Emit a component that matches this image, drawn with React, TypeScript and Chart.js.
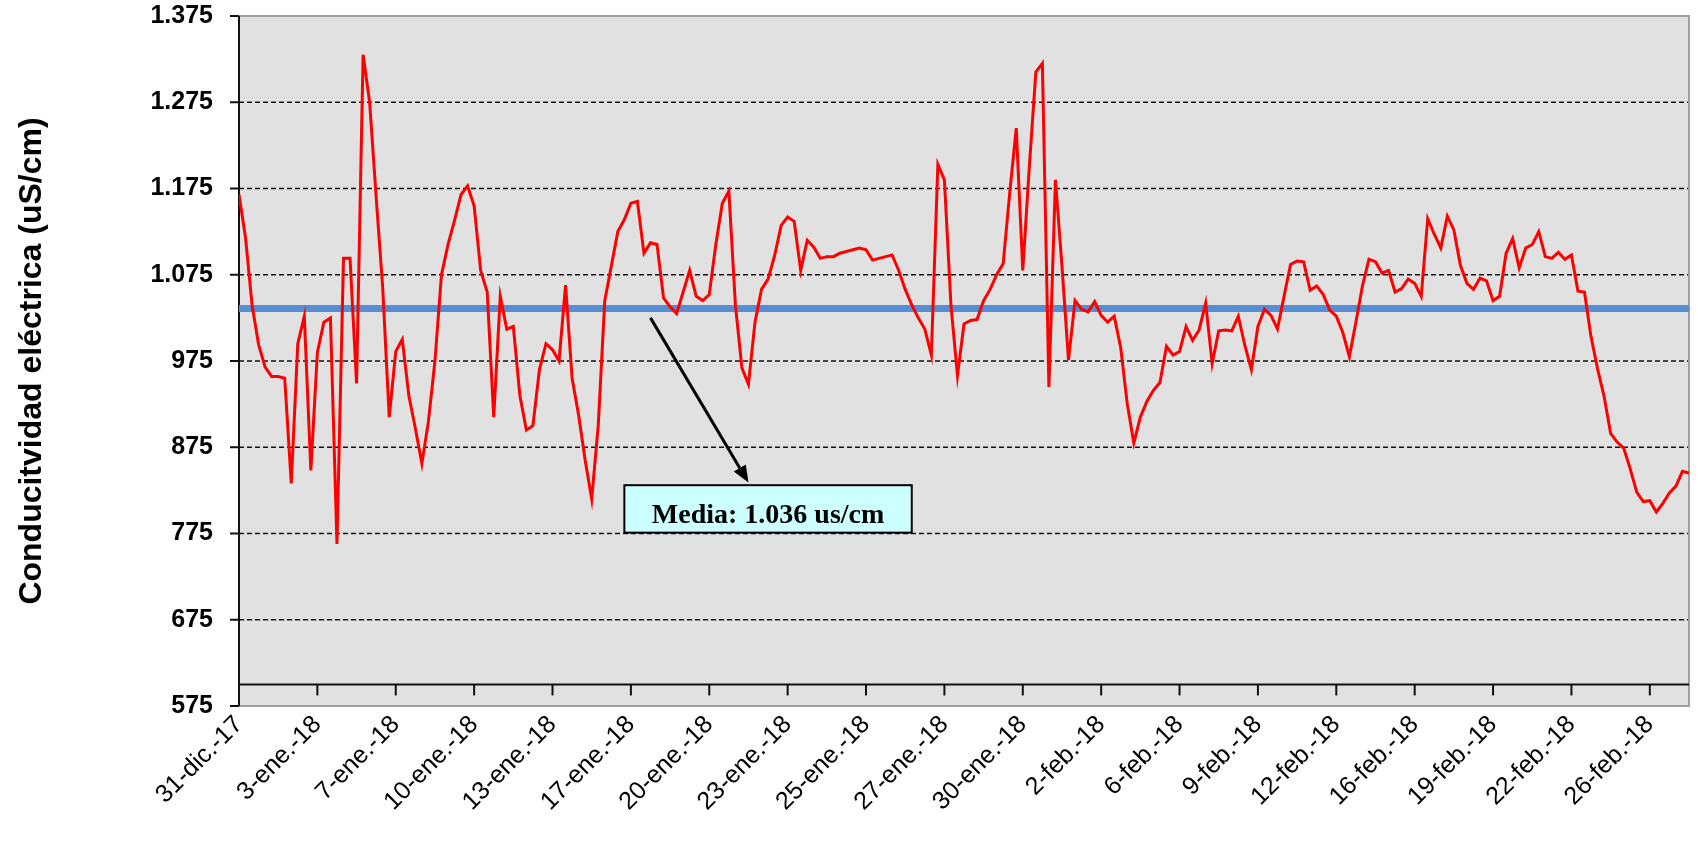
import React, { useEffect, useRef } from "react";
import { Chart, registerables } from "chart.js";

Chart.register(...registerables);

// ---- data ----
const TICK_LABELS = [
  "31-dic.-17", "3-ene.-18", "7-ene.-18", "10-ene.-18", "13-ene.-18", "17-ene.-18",
  "20-ene.-18", "23-ene.-18", "25-ene.-18", "27-ene.-18", "30-ene.-18", "2-feb.-18",
  "6-feb.-18", "9-feb.-18", "12-feb.-18", "16-feb.-18", "19-feb.-18", "22-feb.-18", "26-feb.-18",
];
const POINTS_PER_LABEL = 12;

const CONDUCTIVITY = [
  // 31-dic -> 7-ene
  1168, 1118, 1040, 994, 968, 957, 957, 955, 833, 995, 1027, 848,
  985, 1020, 1025, 763, 1094, 1094, 949, 1330, 1275, 1165, 1060, 910,
  986, 1000, 935, 897, 856, 905, 975, 1075, 1110, 1138, 1168, 1178,
  // 10-ene -> 20-ene
  1155, 1080, 1055, 910, 1050, 1012, 1015, 935, 895, 900, 965, 995,
  988, 975, 1063, 955, 912, 860, 815, 900, 1045, 1085, 1125, 1139,
  1158, 1160, 1100, 1112, 1110, 1048, 1038, 1030, 1055, 1080, 1050, 1045,
  // 20-ene -> 27-ene
  1052, 1110, 1158, 1172, 1040, 967, 948, 1020, 1058, 1070, 1097, 1132,
  1142, 1137, 1080, 1115, 1107, 1094, 1096, 1096, 1100, 1102, 1104, 1106,
  1104, 1092, 1094, 1096, 1098, 1080, 1058, 1040, 1025, 1012, 982, 1203,
  // 27-ene -> 6-feb
  1185, 1040, 958, 1018, 1022, 1023, 1045, 1058, 1075, 1088, 1170, 1245,
  1080, 1200, 1310, 1320, 945, 1185, 1085, 976, 1045, 1035, 1032, 1044,
  1028, 1020, 1027, 990, 925, 880, 910, 928, 941, 950, 992, 982,
  // 6-feb -> 16-feb
  986, 1015, 999, 1011, 1042, 972, 1010, 1011, 1010, 1027, 993, 965,
  1015, 1035, 1028, 1012, 1050, 1087, 1091, 1090, 1057, 1062, 1052, 1034,
  1027, 1008, 980, 1020, 1062, 1093, 1090, 1077, 1080, 1055, 1059, 1070,
  // 16-feb -> end
  1065, 1050, 1140, 1122, 1106, 1143, 1127, 1086, 1065, 1058, 1071, 1068,
  1045, 1050, 1100, 1117, 1083, 1106, 1110, 1125, 1096, 1094, 1101, 1093,
  1098, 1056, 1055, 1003, 966, 934, 891, 881, 874, 850, 823, 812,
  813, 800, 810, 822, 830, 847, 845,
];

const MEAN_VALUE = 1036;
const MEAN_LABEL = "Media: 1.036 us/cm";
const Y_TICKS = [575, 675, 775, 875, 975, 1075, 1175, 1275, 1375];
const X_AXIS_CROSSES_AT = 600;
const Y_TITLE = "Conducitvidad eléctrica (uS/cm)";

// annotation anchors in data units (x = sample index, y = value)
const NOTE_ARROW_FROM = { x: 63, y: 1025 };
const NOTE_ARROW_TO = { x: 78, y: 834 };
const NOTE_BOX = { x0: 59, x1: 103, yTop: 831, yBottom: 776 };

const LAST_INDEX = CONDUCTIVITY.length - 1;

const formatThousands = (v: number) => {
  const s = String(Math.round(v));
  return s.length > 3 ? s.slice(0, -3) + "." + s.slice(-3) : s;
};

const SANS = "'Liberation Sans', Arial, sans-serif";
const SERIF = "'Liberation Serif', 'Times New Roman', serif";

const excelFrame = {
  id: "excelFrame",
  beforeDraw(chart: any) {
    const { ctx, chartArea: a } = chart;
    ctx.save();
    ctx.fillStyle = "#ffffff";
    ctx.fillRect(0, 0, chart.width, chart.height);
    ctx.fillStyle = "#E1E1E1";
    ctx.fillRect(a.left, a.top, a.right - a.left, a.bottom - a.top);
    ctx.restore();
  },
  beforeDatasetsDraw(chart: any) {
    const { ctx, chartArea: a } = chart;
    const x = chart.scales.x;
    const y = chart.scales.y;
    ctx.save();
    // dashed gridlines
    ctx.strokeStyle = "#111";
    ctx.lineWidth = 1.5;
    ctx.setLineDash([5, 3]);
    Y_TICKS.forEach((v, k) => {
      if (k === 0 || k === Y_TICKS.length - 1) return;
      const py = y.getPixelForValue(v);
      ctx.beginPath();
      ctx.moveTo(a.left, py);
      ctx.lineTo(a.right, py);
      ctx.stroke();
    });
    ctx.setLineDash([]);
    // plot border
    ctx.strokeStyle = "#A0A0A0";
    ctx.lineWidth = 2;
    ctx.beginPath();
    ctx.moveTo(a.left, a.top);
    ctx.lineTo(a.right, a.top);
    ctx.lineTo(a.right, a.bottom);
    ctx.lineTo(a.left, a.bottom);
    ctx.stroke();
    // horizontal axis crossing at X_AXIS_CROSSES_AT
    const ay = y.getPixelForValue(X_AXIS_CROSSES_AT);
    ctx.strokeStyle = "#111";
    ctx.lineWidth = 2;
    ctx.beginPath();
    ctx.moveTo(a.left, ay);
    ctx.lineTo(a.right, ay);
    ctx.stroke();
    TICK_LABELS.forEach((_, k) => {
      const px = x.getPixelForValue(k * POINTS_PER_LABEL);
      ctx.beginPath();
      ctx.moveTo(px, ay);
      ctx.lineTo(px, ay + 11);
      ctx.stroke();
    });
    // vertical axis
    ctx.beginPath();
    ctx.moveTo(a.left, a.top);
    ctx.lineTo(a.left, a.bottom);
    ctx.stroke();
    Y_TICKS.forEach((v) => {
      const py = y.getPixelForValue(v);
      ctx.beginPath();
      ctx.moveTo(a.left - 9, py);
      ctx.lineTo(a.left, py);
      ctx.stroke();
    });
    ctx.restore();
  },
  afterDatasetsDraw(chart: any) {
    const { ctx } = chart;
    const x = chart.scales.x;
    const y = chart.scales.y;
    ctx.save();
    // arrow
    const x1 = x.getPixelForValue(NOTE_ARROW_FROM.x);
    const y1 = y.getPixelForValue(NOTE_ARROW_FROM.y);
    const x2 = x.getPixelForValue(NOTE_ARROW_TO.x);
    const y2 = y.getPixelForValue(NOTE_ARROW_TO.y);
    const ang = Math.atan2(y2 - y1, x2 - x1);
    const head = 17;
    const hw = 7;
    const bx = x2 - head * Math.cos(ang);
    const by = y2 - head * Math.sin(ang);
    ctx.strokeStyle = "#000";
    ctx.fillStyle = "#000";
    ctx.lineWidth = 3;
    ctx.beginPath();
    ctx.moveTo(x1, y1);
    ctx.lineTo(bx, by);
    ctx.stroke();
    ctx.beginPath();
    ctx.moveTo(x2, y2);
    ctx.lineTo(bx + hw * Math.sin(ang), by - hw * Math.cos(ang));
    ctx.lineTo(bx - hw * Math.sin(ang), by + hw * Math.cos(ang));
    ctx.closePath();
    ctx.fill();
    // box
    const bl = x.getPixelForValue(NOTE_BOX.x0);
    const br = x.getPixelForValue(NOTE_BOX.x1);
    const bt = y.getPixelForValue(NOTE_BOX.yTop);
    const bb = y.getPixelForValue(NOTE_BOX.yBottom);
    ctx.fillStyle = "#CCFFFF";
    ctx.fillRect(bl, bt, br - bl, bb - bt);
    ctx.strokeStyle = "#000";
    ctx.lineWidth = 2;
    ctx.strokeRect(bl, bt, br - bl, bb - bt);
    ctx.fillStyle = "#000";
    ctx.font = `bold 28px ${SERIF}`;
    ctx.textAlign = "center";
    ctx.textBaseline = "alphabetic";
    ctx.fillText(MEAN_LABEL, (bl + br) / 2, bb - 10);
    ctx.restore();
  },
};

export default function App() {
  const ref = useRef<HTMLCanvasElement>(null);

  useEffect(() => {
    if (!ref.current) return;
    const chart = new Chart(ref.current, {
      type: "line",
      data: {
        datasets: [
          {
            label: "Conductividad",
            data: CONDUCTIVITY.map((v, i) => ({ x: i, y: v })),
            borderColor: "#FF0000",
            borderWidth: 3,
            pointRadius: 0,
            tension: 0,
            fill: false,
            order: 0,
          },
          {
            label: "Media",
            data: [
              { x: 0, y: MEAN_VALUE },
              { x: LAST_INDEX, y: MEAN_VALUE },
            ],
            borderColor: "#558ED5",
            borderWidth: 7,
            pointRadius: 0,
            tension: 0,
            fill: false,
            order: 1,
          },
        ],
      },
      options: {
        responsive: false,
        animation: false,
        devicePixelRatio: 1,
        layout: { padding: { top: 16, right: 9, left: 0, bottom: 0 } },
        plugins: {
          legend: { display: false },
          tooltip: { enabled: false },
        },
        scales: {
          x: {
            type: "linear",
            min: 0,
            max: LAST_INDEX,
            grid: { display: false, drawTicks: false },
            border: { display: false },
            afterBuildTicks: (s: any) => {
              s.ticks = TICK_LABELS.map((_, k) => ({ value: k * POINTS_PER_LABEL }));
            },
            afterFit: (s: any) => {
              s.height = 135;
            },
            ticks: {
              autoSkip: false,
              minRotation: 45,
              maxRotation: 45,
              padding: 4,
              color: "#000",
              font: { family: SANS, size: 25 },
              callback: (v: any) => TICK_LABELS[Math.round(Number(v) / POINTS_PER_LABEL)] ?? "",
            },
          },
          y: {
            type: "linear",
            min: Y_TICKS[0],
            max: Y_TICKS[Y_TICKS.length - 1],
            grid: {
              display: true,
              drawOnChartArea: false,
              drawTicks: true,
              tickLength: 26,
              color: "rgba(0,0,0,0)",
              tickColor: "rgba(0,0,0,0)",
            },
            border: { display: false },
            afterBuildTicks: (s: any) => {
              s.ticks = Y_TICKS.map((v) => ({ value: v }));
            },
            afterFit: (s: any) => {
              s.width = 239;
            },
            ticks: {
              padding: 0,
              color: "#000",
              font: { family: SANS, size: 25, weight: "bold" },
              callback: (v: any) => formatThousands(Number(v)),
            },
            title: {
              display: true,
              text: Y_TITLE,
              color: "#000",
              font: { family: SANS, size: 32, weight: "bold" },
              padding: { top: 13, bottom: 0 },
            },
          },
        },
      },
      plugins: [excelFrame],
    } as any);
    return () => chart.destroy();
  }, []);

  return (
    <div style={{ position: "absolute", left: 0, top: 0, width: 1698, height: 841, background: "#fff" }}>
      <canvas ref={ref} width={1698} height={841} style={{ display: "block", width: 1698, height: 841 }} />
    </div>
  );
}
